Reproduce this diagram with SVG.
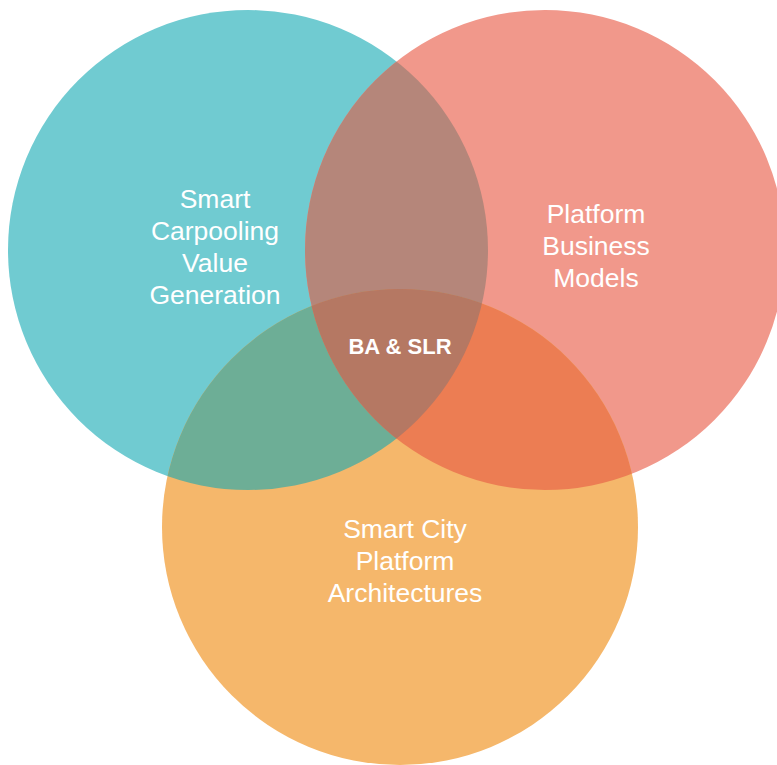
<svg xmlns="http://www.w3.org/2000/svg" width="777" height="765" viewBox="0 0 777 765">
<style>
.lbl{font-family:"Liberation Sans",Arial,sans-serif;font-size:26.5px;fill:#fff;text-anchor:middle}
.ctr{font-family:"Liberation Sans",Arial,sans-serif;font-size:22px;font-weight:bold;fill:#fff;text-anchor:middle}
</style>
<defs>
<clipPath id="cT"><circle cx="248" cy="250" r="240"/></clipPath>
<clipPath id="cR"><circle cx="545" cy="250" r="240"/></clipPath>
<clipPath id="cO"><circle cx="400" cy="527" r="238"/></clipPath>
</defs>
<rect width="777" height="765" fill="#fff"/>
<g id="circle-teal"><circle cx="248" cy="250" r="240" fill="#70CBD1"/></g>
<g id="circle-red"><circle cx="545" cy="250" r="240" fill="#F1988B"/></g>
<g id="circle-orange"><circle cx="400" cy="527" r="238" fill="#F5B76B"/></g>
<g id="overlaps">
<circle cx="545" cy="250" r="240" fill="#B5867A" clip-path="url(#cT)"/>
<circle cx="400" cy="527" r="238" fill="#6DAE96" clip-path="url(#cT)"/>
<circle cx="400" cy="527" r="238" fill="#EC7D53" clip-path="url(#cR)"/>
<g clip-path="url(#cT)"><circle cx="400" cy="527" r="238" fill="#B57863" clip-path="url(#cR)"/></g>
</g>
<g id="labels">
<text class="lbl" x="215" y="208">Smart</text>
<text class="lbl" x="215" y="240">Carpooling</text>
<text class="lbl" x="215" y="272">Value</text>
<text class="lbl" x="215" y="304">Generation</text>
<text class="lbl" x="596" y="223">Platform</text>
<text class="lbl" x="596" y="255">Business</text>
<text class="lbl" x="596" y="287">Models</text>
<text class="lbl" x="405" y="538">Smart City</text>
<text class="lbl" x="405" y="570">Platform</text>
<text class="lbl" x="405" y="602">Architectures</text>
<text class="ctr" x="400" y="354">BA &amp; SLR</text>
</g>
</svg>
